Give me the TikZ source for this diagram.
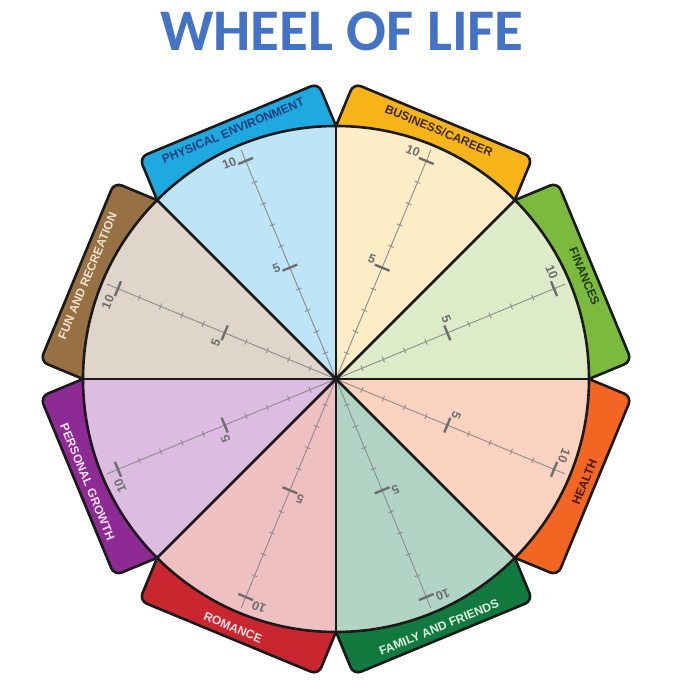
\documentclass[tikz,border=0pt]{standalone}
\usepackage{fontspec}
\setmainfont{Liberation Sans}
\newfontfamily\titlefont{Carlito}
\usetikzlibrary{calc}
\definecolor{wheelink}{HTML}{1A1A1A}
\definecolor{titleblue}{HTML}{4472C4}
\definecolor{scalegray}{HTML}{8C8C8C}
\definecolor{scaledark}{HTML}{6E6E6E}
% tab colours
\definecolor{tabphys}{HTML}{1FA9E1}
\definecolor{tabbus}{HTML}{F7B418}
\definecolor{tabfin}{HTML}{7CBA3D}
\definecolor{tabhealth}{HTML}{F26522}
\definecolor{tabfam}{HTML}{137A3F}
\definecolor{tabrom}{HTML}{C92630}
\definecolor{tabpers}{HTML}{8E2A93}
\definecolor{tabfun}{HTML}{977143}
% sector colours
\definecolor{secphys}{HTML}{BDE4F7}
\definecolor{secbus}{HTML}{FDEDC6}
\definecolor{secfin}{HTML}{DDEBC9}
\definecolor{sechealth}{HTML}{FAD3C0}
\definecolor{secfam}{HTML}{B2D4C5}
\definecolor{secrom}{HTML}{EFC0C2}
\definecolor{secpers}{HTML}{DCBCE0}
\definecolor{secfun}{HTML}{DFD5CA}
% tab text colours
\definecolor{txtphys}{HTML}{1D3E78}
\definecolor{txtbus}{HTML}{3A2A12}
\definecolor{txtfin}{HTML}{233A12}
\definecolor{txthealth}{HTML}{4A1A08}
\definecolor{txtfam}{HTML}{DDF0E2}
\definecolor{txtrom}{HTML}{FBE3E3}
\definecolor{txtpers}{HTML}{F4E6F5}
\definecolor{txtfun}{HTML}{EFE4CF}

\begin{document}
\begin{tikzpicture}[
  x=1pt, y=1pt,
  rim/.style={draw=wheelink, line width=2.6pt, line join=round},
  tabbox/.style={rim, rounded corners=8pt},
  tablbl/.style={font=\bfseries\fontsize{12}{12}\selectfont, inner sep=0pt},
  axisln/.style={draw=scalegray, line width=0.9pt},
  minortick/.style={draw=scalegray, line width=0.9pt},
  majortick/.style={draw=scaledark, line width=2.4pt},
  numlbl/.style={font=\bfseries\fontsize{12.5}{12.5}\selectfont, text=scaledark, inner sep=0pt}
]
\useasboundingbox (-336,-309) rectangle (344,379);
\def\R{253}
\coordinate (hub) at (0,0);

\node[font=\titlefont\bfseries\fontsize{59}{59}\selectfont, text=titleblue] (title)
  at (6,348) {WHEEL OF LIFE};

% tabs round the rim
\foreach \b/\r/\tabc/\txtc/\txt [count=\i] in {
    112.5/22.5/tabphys/txtphys/PHYSICAL ENVIRONMENT,
    67.5/-22.5/tabbus/txtbus/{BUSINESS/CAREER},
    22.5/-67.5/tabfin/txtfin/FINANCES,
    -22.5/67.5/tabhealth/txthealth/HEALTH,
    -67.5/22.5/tabfam/txtfam/FAMILY AND FRIENDS,
    -112.5/-22.5/tabrom/txtrom/ROMANCE,
    -157.5/-67.5/tabpers/txtpers/PERSONAL GROWTH,
    157.5/67.5/tabfun/txtfun/FUN AND RECREATION} {
  \begin{scope}[rotate=\b]
    \filldraw[tabbox, fill=\tabc] (200,-96.8) rectangle (280,96.8);
  \end{scope}
  \node[tablbl, text=\txtc, rotate=\r] (tab\i) at (\b:269) {\txt};
}

% sectors with their scales
\foreach \b/\secc in {112.5/secphys, 67.5/secbus, 22.5/secfin, -22.5/sechealth,
    -67.5/secfam, -112.5/secrom, -157.5/secpers, 157.5/secfun} {
  \begin{scope}[rotate=\b]
    \fill[\secc] (hub) -- (-22.5:\R) arc[start angle=-22.5, end angle=22.5, radius=\R] -- cycle;
    \draw[axisln] (hub) -- (248,0);
    \foreach \k in {1,2,3,4,6,7,8,9}
      \draw[minortick] ({5+23.1*\k},-3) -- ({5+23.1*\k},3);
    \foreach \k in {5,10} {
      \draw[majortick] ({5+23.1*\k},-8) -- ({5+23.1*\k},8);
      \node[numlbl, anchor=base east, rotate=\b-90] at ({5+23.1*\k},9) {\k};
    }
  \end{scope}
}

% rim and spokes
\foreach \a in {0,45,...,315}
  \draw[rim] (hub) -- (\a:\R);
\draw[rim] (hub) circle[radius=\R];

\end{tikzpicture}
\end{document}
